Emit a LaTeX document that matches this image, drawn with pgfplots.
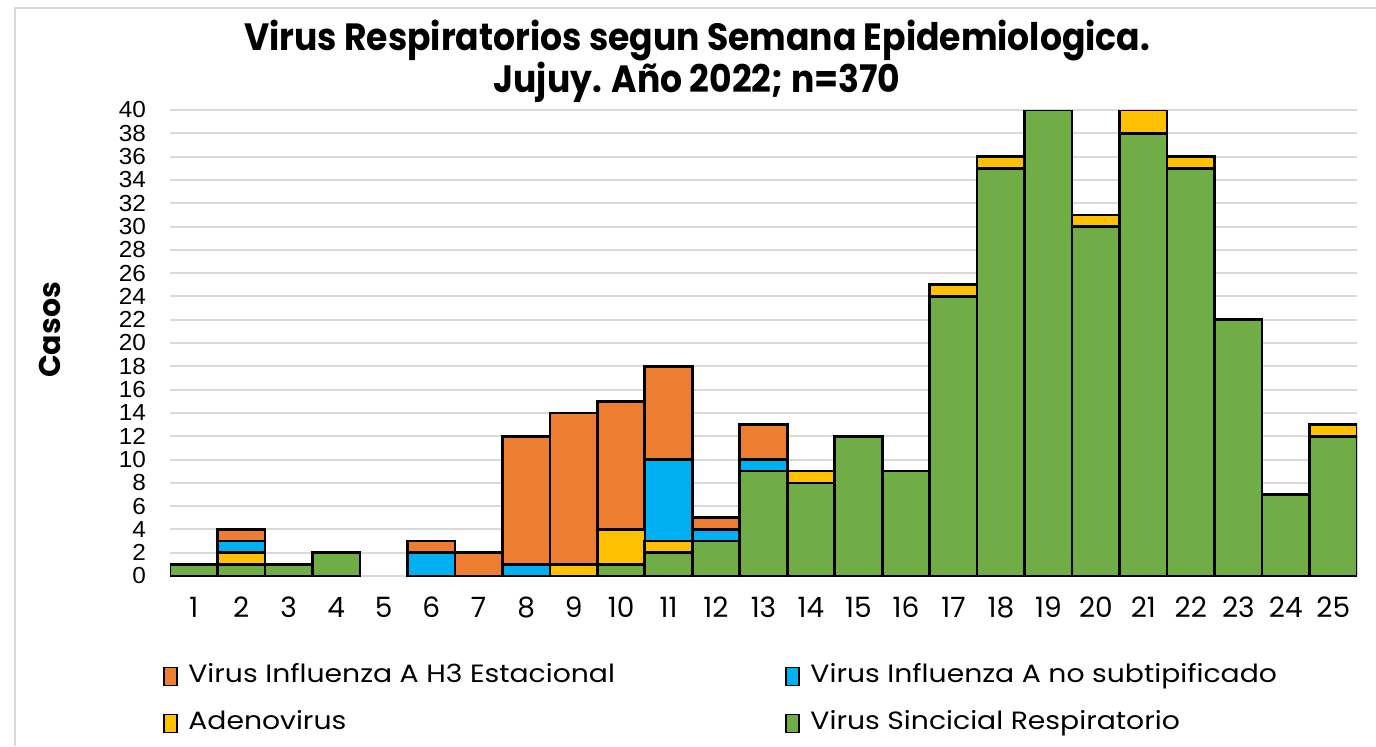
\documentclass[border=0pt]{standalone}
\usepackage{pgfplots}
\pgfplotsset{compat=1.18}
\usepackage{fontspec}
\setmainfont{Poppins}
\newfontfamily\titlefont[FakeStretch=0.91]{Poppins}
\newfontfamily\legfont[FakeStretch=1.13]{Poppins}
\newfontfamily\arialfont[FakeStretch=1.05]{Liberation Sans}
\definecolor{cH3}{HTML}{ED7D31}
\definecolor{cFA}{HTML}{00B0F0}
\definecolor{cAD}{HTML}{FFC000}
\definecolor{cVS}{HTML}{70AD47}
\definecolor{gridc}{HTML}{D9D9D9}
\begin{document}
\begin{tikzpicture}
\path[use as bounding box] (0,0) rectangle (688pt,373pt);
\draw[gridc, line width=0.8pt] (7.5pt,0) -- (7.5pt,369pt) -- (688pt,369pt);
\begin{axis}[
  at={(85pt,85pt)}, anchor=south west,
  scale only axis, width=593.5pt, height=233pt,
  ybar stacked, bar width=23.75pt,
  xmin=0.5, xmax=25.5, ymin=0, ymax=40,
  xtick={1,...,25}, ytick={0,2,...,40},
  major tick length=0pt,
  axis x line*=bottom, axis y line*=left,
  x axis line style={gridc, line width=1pt, -},
  y axis line style={draw=none},
  ymajorgrids, grid style={gridc, line width=1pt},
  /pgf/number format/assume math mode=true,
  xticklabel style={font=\fontsize{14}{15}\selectfont, yshift=-7pt},
  yticklabel style={font=\arialfont\fontsize{11.6}{12}\selectfont, xshift=-8.5pt, inner ysep=0pt},
  title={Virus Respiratorios segun Semana Epidemiologica.\\Jujuy. Año 2022; n=370},
  title style={at={(0.444,1.079)}, anchor=center, align=center,
    font=\titlefont\fontsize{19}{21}\selectfont\bfseries},
  ylabel={Casos},
  ylabel style={at={(-0.101,0.528)}, anchor=center,
    font=\fontsize{15}{16}\selectfont\bfseries},
  every axis plot/.append style={draw=black, line width=1.3pt},
  legend image code/.code={\draw[#1, line width=0.8pt] (0pt,-4.5pt) rectangle (6.5pt,4.5pt); \path (9.5pt,0pt);},
  reverse legend,
  legend columns=2,
  legend style={at={(-0.006,-0.1814)}, anchor=north west, draw=none, fill=none,
    inner sep=0pt, row sep=8pt,
    font=\legfont\fontsize{12.5}{15}\selectfont,
    nodes={text height=9pt, text depth=2.5pt, inner sep=2pt},
    legend cell align=left},
]
% green: Virus Sincicial Respiratorio
\addplot[fill=cVS] coordinates {(1,1) (2,1) (3,1) (4,2) (6,0) (7,0) (8,0) (9,0) (10,1) (11,2) (12,3) (13,9) (14,8) (15,12) (16,9) (17,24) (18,35) (19,40) (20,30) (21,38) (22,35) (23,22) (24,7) (25,12)};
\addlegendentry{Virus Sincicial Respiratorio}
% yellow: Adenovirus
\addplot[fill=cAD] coordinates {(1,0) (2,1) (3,0) (4,0) (6,0) (7,0) (8,0) (9,1) (10,3) (11,1) (12,0) (13,0) (14,1) (15,0) (16,0) (17,1) (18,1) (19,0) (20,1) (21,2) (22,1) (23,0) (24,0) (25,1)};
\addlegendentry{\makebox[296.5pt][l]{Adenovirus}}
% blue: Virus Influenza A no subtipificado
\addplot[fill=cFA] coordinates {(1,0) (2,1) (3,0) (4,0) (6,2) (7,0) (8,1) (9,0) (10,0) (11,7) (12,1) (13,1) (14,0) (15,0) (16,0) (17,0) (18,0) (19,0) (20,0) (21,0) (22,0) (23,0) (24,0) (25,0)};
\addlegendentry{Virus Influenza A no subtipificado}
% orange: Virus Influenza A H3 Estacional
\addplot[fill=cH3] coordinates {(1,0) (2,1) (3,0) (4,0) (6,1) (7,2) (8,11) (9,13) (10,11) (11,8) (12,1) (13,3) (14,0) (15,0) (16,0) (17,0) (18,0) (19,0) (20,0) (21,0) (22,0) (23,0) (24,0) (25,0)};
\addlegendentry{\makebox[296.5pt][l]{Virus Influenza A H3 Estacional}}
\end{axis}
\end{tikzpicture}
\end{document}
